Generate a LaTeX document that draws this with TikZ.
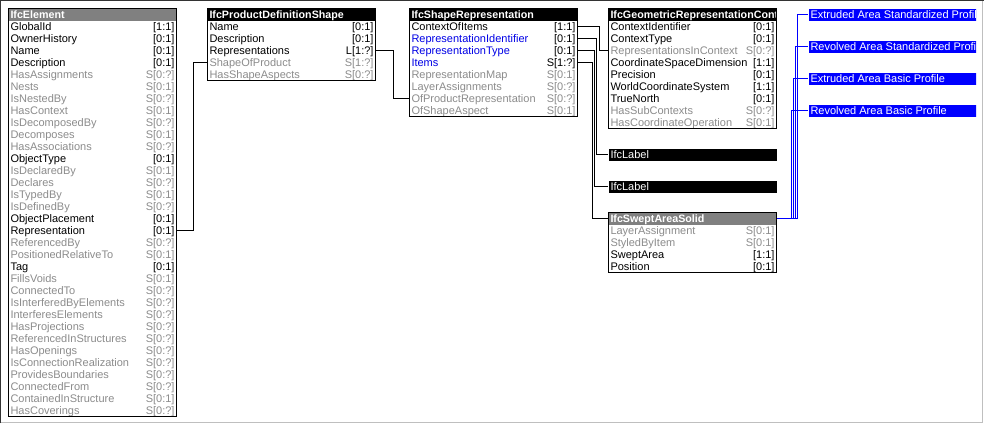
\documentclass[tikz,border=0pt]{standalone}
\usepackage{fontspec}
\setmainfont{Liberation Sans}
\definecolor{invgray}{RGB}{140,140,140}
\definecolor{hdrgray}{RGB}{128,128,128}
\definecolor{attrblue}{RGB}{0,0,230}
\definecolor{linkblue}{RGB}{0,0,255}
\colorlet{nmN}{black}\colorlet{cdN}{black}
\colorlet{nmI}{invgray}\colorlet{cdI}{invgray}
\colorlet{nmB}{attrblue}\colorlet{cdB}{black}
\newcommand\rowfont{\fontsize{11}{12}\selectfont}
\newcommand\hdrfont{\fontsize{10.7}{12}\selectfont\bfseries}
\newcommand\lftbox[1]{\makebox[164pt][l]{#1}}
\newcommand\rowtxt[3]{\makebox[164pt][l]{\textcolor{nm#3}{#1}\hfill\textcolor{cd#3}{#2}}}
\begin{document}
\begin{tikzpicture}[x=1pt,y=-1pt,line width=1pt,
  rowst/.style={anchor=north west,inner xsep=2pt,inner ysep=0pt,text height=9.5pt,text depth=2.5pt,minimum height=12pt,font=\rowfont},
  hdrst/.style={rowst,font=\hdrfont,text=white,minimum width=168pt},
  framest/.style={draw=black,line width=1pt,anchor=north west,minimum width=168pt,inner sep=0pt},
  labelst/.style={rowst,fill=black,text=white,minimum width=168pt},
  bluest/.style={rowst,fill=linkblue,text=white,minimum width=168pt},
  link/.style={draw=black,line width=1pt},
  bluelink/.style={draw=linkblue,line width=1pt}]
\useasboundingbox (0,0) rectangle (984,424);
\fill[white] (0,0) rectangle (984,424);
% outer frame
\draw[black!80] (0.5,423) -- (0.5,0.5) -- (984,0.5);
\draw[black!25] (1,422.5) -- (982.5,422.5) -- (982.5,1);

% ---------------- IfcElement
\node[hdrst,fill=hdrgray] (el-h) at (8,8) {\lftbox{IfcElement}};
\foreach \aname/\acard/\atype [count=\i] in {
 GlobalId/{[1:1]}/N, OwnerHistory/{[0:1]}/N, Name/{[0:1]}/N, Description/{[0:1]}/N,
 HasAssignments/{S[0:?]}/I, Nests/{S[0:1]}/I, IsNestedBy/{S[0:?]}/I, HasContext/{S[0:1]}/I,
 IsDecomposedBy/{S[0:?]}/I, Decomposes/{S[0:1]}/I, HasAssociations/{S[0:?]}/I,
 ObjectType/{[0:1]}/N, IsDeclaredBy/{S[0:1]}/I, Declares/{S[0:?]}/I, IsTypedBy/{S[0:1]}/I,
 IsDefinedBy/{S[0:?]}/I, ObjectPlacement/{[0:1]}/N, Representation/{[0:1]}/N,
 ReferencedBy/{S[0:?]}/I, PositionedRelativeTo/{S[0:1]}/I, Tag/{[0:1]}/N,
 FillsVoids/{S[0:1]}/I, ConnectedTo/{S[0:?]}/I, IsInterferedByElements/{S[0:?]}/I,
 InterferesElements/{S[0:?]}/I, HasProjections/{S[0:?]}/I, ReferencedInStructures/{S[0:?]}/I,
 HasOpenings/{S[0:?]}/I, IsConnectionRealization/{S[0:?]}/I, ProvidesBoundaries/{S[0:?]}/I,
 ConnectedFrom/{S[0:?]}/I, ContainedInStructure/{S[0:1]}/I, HasCoverings/{S[0:?]}/I}
 {\node[rowst] (el-\i) at (8,{20+12*(\i-1)}) {\rowtxt{\aname}{\acard}{\atype}};}
\node[framest,minimum height=408pt] (el) at (8,8) {};

% ---------------- IfcProductDefinitionShape
\node[hdrst,fill=black] (pds-h) at (207,8) {\lftbox{IfcProductDefinitionShape}};
\foreach \aname/\acard/\atype [count=\i] in {
 Name/{[0:1]}/N, Description/{[0:1]}/N, Representations/{L[1:?]}/N,
 ShapeOfProduct/{S[1:?]}/I, HasShapeAspects/{S[0:?]}/I}
 {\node[rowst] (pds-\i) at (207,{20+12*(\i-1)}) {\rowtxt{\aname}{\acard}{\atype}};}
\node[framest,minimum height=72pt] (pds) at (207,8) {};

% ---------------- IfcShapeRepresentation
\node[hdrst,fill=black] (sr-h) at (409,8) {\lftbox{IfcShapeRepresentation}};
\foreach \aname/\acard/\atype [count=\i] in {
 ContextOfItems/{[1:1]}/N, RepresentationIdentifier/{[0:1]}/B, RepresentationType/{[0:1]}/B,
 Items/{S[1:?]}/B, RepresentationMap/{S[0:1]}/I, LayerAssignments/{S[0:?]}/I,
 OfProductRepresentation/{S[0:?]}/I, OfShapeAspect/{S[0:1]}/I}
 {\node[rowst] (sr-\i) at (409,{20+12*(\i-1)}) {\rowtxt{\aname}{\acard}{\atype}};}
\node[framest,minimum height=108pt] (sr) at (409,8) {};

% ---------------- IfcGeometricRepresentationContext
\begin{scope}
\clip (608,8) rectangle (776,20);
\node[hdrst,fill=black] (grc-h) at (608,8) {\lftbox{IfcGeometricRepresentationContext}};
\end{scope}
\foreach \aname/\acard/\atype [count=\i] in {
 ContextIdentifier/{[0:1]}/N, ContextType/{[0:1]}/N, RepresentationsInContext/{S[0:?]}/I,
 CoordinateSpaceDimension/{[1:1]}/N, Precision/{[0:1]}/N, WorldCoordinateSystem/{[1:1]}/N,
 TrueNorth/{[0:1]}/N, HasSubContexts/{S[0:?]}/I, HasCoordinateOperation/{S[0:1]}/I}
 {\node[rowst] (grc-\i) at (608,{20+12*(\i-1)}) {\rowtxt{\aname}{\acard}{\atype}};}
\node[framest,minimum height=120pt] (grc) at (608,8) {};

% ---------------- IfcLabel bars
\node[labelst] (lab1) at (608,148) {\lftbox{IfcLabel}};
\node[labelst] (lab2) at (608,180) {\lftbox{IfcLabel}};

% ---------------- IfcSweptAreaSolid
\node[hdrst,fill=hdrgray] (sas-h) at (608,212) {\lftbox{IfcSweptAreaSolid}};
\foreach \aname/\acard/\atype [count=\i] in {
 LayerAssignment/{S[0:1]}/I, StyledByItem/{S[0:1]}/I, SweptArea/{[1:1]}/N, Position/{[0:1]}/N}
 {\node[rowst] (sas-\i) at (608,{224+12*(\i-1)}) {\rowtxt{\aname}{\acard}{\atype}};}
\node[framest,minimum height=60pt] (sas) at (608,212) {};

% ---------------- blue profile boxes
\begin{scope}
\clip (808,0) rectangle (976,120);
\node[bluest] (b1) at (808,8) {\lftbox{Extruded Area Standardized Profile}};
\node[bluest] (b2) at (808,40) {\lftbox{Revolved Area Standardized Profile}};
\node[bluest] (b3) at (808,72) {\lftbox{Extruded Area Basic Profile}};
\node[bluest] (b4) at (808,104) {\lftbox{Revolved Area Basic Profile}};
\end{scope}

% ---------------- connectors
\draw[link] (el-18.east) -- ++(16,0) |- (pds-4.west);
\draw[link] (pds-3.east) -- ++(17,0) |- (sr-7.west);
\draw[link] (sr-1.east) -- ++(21,0) |- (grc-3.west);
\draw[link] (sr-2.east) -- ++(18,0) |- (lab1.west);
\draw[link] (sr-3.east) -- ++(16,0) |- (lab2.west);
\draw[link] (sr-4.east) -- ++(14,0) |- (sas-h.west);
\draw[bluelink] (sas-h.east) -- ++(20,0) |- (b1.west);
\draw[bluelink] (sas-h.east) -- ++(18,0) |- (b2.west);
\draw[bluelink] (sas-h.east) -- ++(16,0) |- (b3.west);
\draw[bluelink] (sas-h.east) -- ++(14,0) |- (b4.west);
\end{tikzpicture}
\end{document}
